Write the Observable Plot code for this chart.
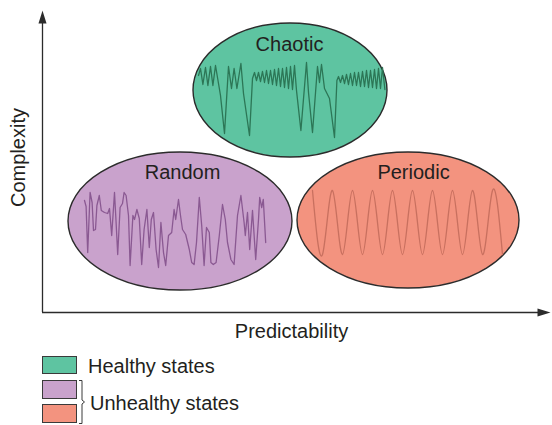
<!DOCTYPE html>
<html>
<head>
<meta charset="utf-8">
<script src="https://cdn.jsdelivr.net/npm/d3@7"></script>
<script src="https://cdn.jsdelivr.net/npm/@observablehq/plot@0.6"></script>
<style>
  html, body { margin: 0; padding: 0; background: #fff; }
  body { width: 552px; height: 425px; overflow: hidden; font-family: "Liberation Sans", Arial, sans-serif; color: #231f20; }
  #legend { position: relative; height: 80px; }
  #legend .sw { position: absolute; left: 42px; width: 35px; box-sizing: border-box; border: 1px solid #3a3a3a; }
  #legend .lb { position: absolute; font-size: 20px; line-height: 20px; white-space: nowrap; }
</style>
</head>
<body>
<div id="chart"></div>
<div id="legend"></div>
<script>
// ---- data ----
const states = ["Chaotic", "Random", "Periodic"];
const predictability = [124, 69, 183];      // ellipse centres (x)
const complexity = [111, 45.5, 46];         // ellipse centres (y)
const spreadX = [48.5, 56, 55.5];           // ellipse half-width
const spreadY = [33.5, 34.5, 34];           // ellipse half-height
const labelX = [123.5, 70, 185.5];
const labelY = [134, 70, 70];
const fills = ["#5ec4a1", "#c9a2cc", "#f3937f"];
const traceColors = ["#2c7656", "#8a5992", "#c8705f"];

const chaotic = [
  [78,118.5],[79,122],[80.2,114],[81.5,122.5],[82.7,113.5],[84,123],[85.2,113.5],[86.5,123.5],[89,108.5],[91,89.5],
  [93,123],[94.5,112],[95.8,122],[97.2,112],[99.2,124.5],[100.5,109.5],[103.5,88.5],
  [105,117],[106,120],[107,116],[108,120],[109,115.5],[110,120.5],[111,115],[112,121],[113,114.5],[114,121],[115,114],
  [116,121.5],[117,113.5],[118,122],[119,113],[120,122],[121,112.5],[122,122.5],[123,112],[124,123],[125,111.5],[126,123.5],
  [127,111],[129.2,91],[132,125],[133,110],[135,90],[137.5,123],[138.5,115],[139.5,124],[141,112],[143.5,107],[146,87.5],[147.2,116],
  [148,118],[149,115],[150,118.5],[151,114.5],[152,119],[153,114],[154,119.5],[155,113.5],[156,120],[157,113.5],[158,120],
  [159,113],[160,120.5],[161,113],[162,121],[163,112.5],[164,121],[165,112.5],[166,121.5],[167,112],[168,122],[169,112],
  [170,122.5],[171.2,111.5]
];
const random = [
  [21,56],[21.8,53],[22.6,30],[23.8,60],[24.8,55],[25.5,41],[26.5,41.5],[27.2,53.5],[28.4,58.5],[29.4,51],[31,50],
  [32.6,49.5],[33.5,52],[34.6,38.5],[36,60],[36.8,45],[37.6,29],[38.8,52.5],[40,54.5],[40.8,60],[41.8,58.5],[43,48.5],
  [43.8,23.5],[45.2,48.5],[46,46.5],[47.2,51.5],[48.4,47],[49.6,24],[50.8,41.5],[52.2,51.5],[53.4,32.5],[54.4,46.5],
  [55.5,50],[56.8,31.5],[58,22.5],[59.2,45],[60.5,30],[61.6,23.5],[63,38.5],[64.6,40],[65.8,51.5],[66.6,46.5],[68,56.5],
  [69,48.5],[70,41.5],[71.6,39],[73.4,31.5],[74.6,25],[75.8,24],[77,35],[78.4,57.5],[79.6,43.5],[80.8,23.5],[82,42.5],
  [83.4,40],[84.2,25],[85.4,24],[86.8,25],[88.4,38.5],[90,54],[91.4,46.5],[92.5,35],[94.2,26.5],[95.8,24],[97.5,48.5],
  [99.2,58.5],[100.8,45],[101.4,38.5],[102.5,50],[103.6,31.5],[105,51],[106.6,26.5],[108,46.5],[108.6,57.5],[109.6,52.5],
  [110.4,56.5],[111.6,35]
];
const periodic = [
  [135,61],[140,29],[145,61],[150,29],[155,61],[160,29],[165,61],[170,29],[175,61],[180,29],
  [185,61],[190,29],[195,61],[200,29],[205,61],[210,29],[215,61],[220,29],[225,61],[230,29]
];
const legendLabels = ["Healthy states", "Unhealthy states"];
const axisTitles = ["Predictability", "Complexity"];

// ---- chart ----
const ink = "#2b2b2b";
const color = d3.scaleOrdinal(states, fills);
const stateRows = states.map((name, i) => ({
  name, cx: predictability[i], cy: complexity[i], rx: spreadX[i], ry: spreadY[i], lx: labelX[i], ly: labelY[i]
}));
const arrowHead = { draw(ctx) { ctx.moveTo(0, 0); ctx.lineTo(4, 13); ctx.lineTo(-4, 13); ctx.closePath(); } };

const ellipses = (index, scales) => {
  const g = d3.create("svg:g");
  for (const d of stateRows) {
    g.append("ellipse")
      .attr("cx", scales.x(d.cx)).attr("cy", scales.y(d.cy))
      .attr("rx", Math.abs(scales.x(d.cx + d.rx) - scales.x(d.cx)))
      .attr("ry", Math.abs(scales.y(d.cy + d.ry) - scales.y(d.cy)))
      .attr("fill", color(d.name)).attr("stroke", ink).attr("stroke-width", 1.4);
  }
  return g.node();
};

const plot = Plot.plot({
  width: 552, height: 345,
  marginLeft: 42, marginRight: 2, marginTop: 10, marginBottom: 33,
  x: { domain: [0, 254], axis: null },
  y: { domain: [0, 151], axis: null },
  style: { fontFamily: '"Liberation Sans", Arial, sans-serif', fontSize: "20px", color: "#231f20", background: "#fff" },
  marks: [
    ellipses,
    Plot.line(chaotic, { x: d => d[0], y: d => d[1], stroke: traceColors[0], strokeWidth: 1.3 }),
    Plot.line(random, { x: d => d[0], y: d => d[1], stroke: traceColors[1], strokeWidth: 1.3 }),
    Plot.line(periodic, { x: d => d[0], y: d => d[1], stroke: traceColors[2], strokeWidth: 1.3, curve: "natural" }),
    Plot.text(stateRows, { x: "lx", y: "ly", text: "name", fontSize: 20, fill: "#231f20" }),
    Plot.ruleX([0], { y1: 0, y2: 146, stroke: ink, strokeWidth: 1.3 }),
    Plot.ruleY([0], { x1: 0, x2: 248, stroke: ink, strokeWidth: 1.3 }),
    Plot.dot([[0, 151]], { x: d => d[0], y: d => d[1], symbol: arrowHead, fill: ink, stroke: null }),
    Plot.dot([[254, 0]], { x: d => d[0], y: d => d[1], symbol: arrowHead, rotate: 90, fill: ink, stroke: null }),
    Plot.text([axisTitles[0]], { frameAnchor: "bottom", textAnchor: "middle", lineAnchor: "middle", dx: -5, dy: 19, fontSize: 20, fill: "#231f20" }),
    Plot.text([axisTitles[1]], { frameAnchor: "left", textAnchor: "middle", lineAnchor: "middle", rotate: -90, dx: -24, dy: -4, fontSize: 20, fill: "#231f20" })
  ]
});
document.getElementById("chart").appendChild(plot);

// ---- legend ----
const legend = document.getElementById("legend");
const swatchTops = [11, 35, 59];
const swatchHeights = [18, 19, 19];
fills.forEach((f, i) => {
  const s = document.createElement("div");
  s.className = "sw";
  s.style.top = swatchTops[i] + "px";
  s.style.height = swatchHeights[i] + "px";
  s.style.background = f;
  legend.appendChild(s);
});
const l1 = document.createElement("div");
l1.className = "lb"; l1.style.left = "88px"; l1.style.top = "11px"; l1.textContent = legendLabels[0];
legend.appendChild(l1);
const l2 = document.createElement("div");
l2.className = "lb"; l2.style.left = "90px"; l2.style.top = "48px"; l2.textContent = legendLabels[1];
legend.appendChild(l2);
const br = d3.select(legend).append("svg")
  .style("position", "absolute").style("left", "78px").style("top", "35px")
  .attr("width", 12).attr("height", 44);
br.append("path").attr("d", "M1,0.5 H4 V20 L6.5,22 L4,24 V43.5 H1")
  .attr("fill", "none").attr("stroke", "#3a3a3a").attr("stroke-width", 1);
</script>
</body>
</html>
